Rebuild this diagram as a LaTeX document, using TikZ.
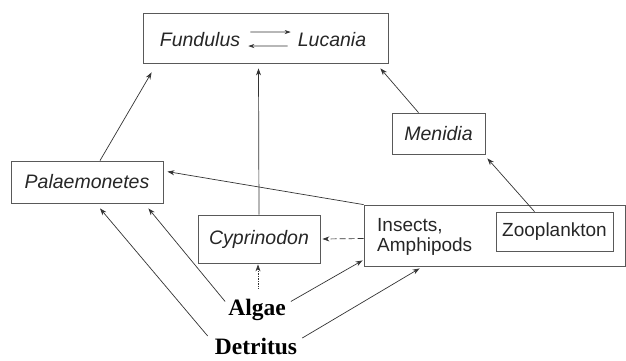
\documentclass[tikz,border=0pt]{standalone}
\usepackage{fontspec}
\setmainfont{Liberation Serif}
\newfontfamily\arialf{Liberation Sans}
\usetikzlibrary{arrows.meta,calc}
\begin{document}
\begin{tikzpicture}[x=1pt,y=-1pt,
  box/.style={draw=black!65, line width=0.8pt, inner sep=0pt},
  sp/.style={font=\arialf\itshape\fontsize{19.5}{21}\selectfont, text=black!85},
  rm/.style={font=\arialf\fontsize{19}{20.5}\selectfont, text=black!85},
  src/.style={font=\bfseries\fontsize{23.5}{25}\selectfont, text=black, inner sep=0pt},
  con/.style={draw=black!80, line width=0.7pt, -{Stealth[length=7pt,width=5pt]}},
  eqarr/.style={draw=black!80, line width=0.6pt, -{Stealth[length=6pt,width=4pt]}}]
\useasboundingbox (0,0) rectangle (626,360);
% boxes
\node[box, minimum width=245pt, minimum height=50pt] (top) at (265.5,38) {};
\node[sp, anchor=base, inner sep=0pt] (fun) at (200,46) {Fundulus};
\node[sp, anchor=base, inner sep=0pt] (luc) at (332,46) {Lucania};
\node[box, sp, minimum width=152pt, minimum height=42pt] (pal) at (87,182) {Palaemonetes};
\node[box, sp, minimum width=93pt, minimum height=41pt] (men) at (438.5,133.5) {Menidia};
\node[box, sp, minimum width=122pt, minimum height=48pt] (cyp) at (259,239) {Cyprinodon};
\node[box, minimum width=261pt, minimum height=61pt] (ins) at (494.5,235.5) {};
\node[rm, anchor=west, align=left, inner sep=0pt] (inst) at (377,237) {Insects,\\Amphipods};
\node[box, rm, minimum width=117pt, minimum height=39pt] (zoo) at (554.5,231.5) {Zooplankton};
\node[src, anchor=base] (alg) at (257,315) {Algae};
\node[src, anchor=base] (det) at (256,354) {Detritus};
% equilibrium arrows
\draw[eqarr] ($(fun.east)+(10,-7)$) -- ($(luc.west)+(-7,-7)$);
\draw[eqarr] ($(luc.west)+(-10,7)$) -- ($(fun.east)+(8,7)$);
% connectors
\draw[con] ($(pal.north)+(13,0)$) -- ($(top.south west)+(9,9)$);
\draw[con] (cyp.north) -- ($(top.south)+(-7,5)$);
\draw[con] ($(men.north)+(-20,0)$) -- ($(top.south east)+(-8,5)$);
\draw[con] ($(zoo.north)+(-20,0)$) -- ($(men.south east)+(2,4)$);
\draw[con] (ins.north west) -- ($(pal.north east)+(4,11)$);
\draw[con, dash pattern=on 6pt off 3pt] ($(ins.west)+(0,3)$) -- ($(cyp.east)+(2,0)$);
\draw[con, densely dotted] ($(alg.north)+(1,-10)$) -- ($(cyp.south)+(-1,1)$);
\draw[con] ($(alg.west)+(-3,-8)$) -- ($(pal.south east)+(-15,5)$);
\draw[con] ($(alg.east)+(5,-8)$) -- ($(ins.south west)+(-1,-6)$);
\draw[con] ($(det.west)+(-7,-10)$) -- ($(pal.south)+(13,5)$);
\draw[con] ($(det.east)+(5,-8)$) -- ($(ins.south west)+(56,2)$);
\end{tikzpicture}
\end{document}
